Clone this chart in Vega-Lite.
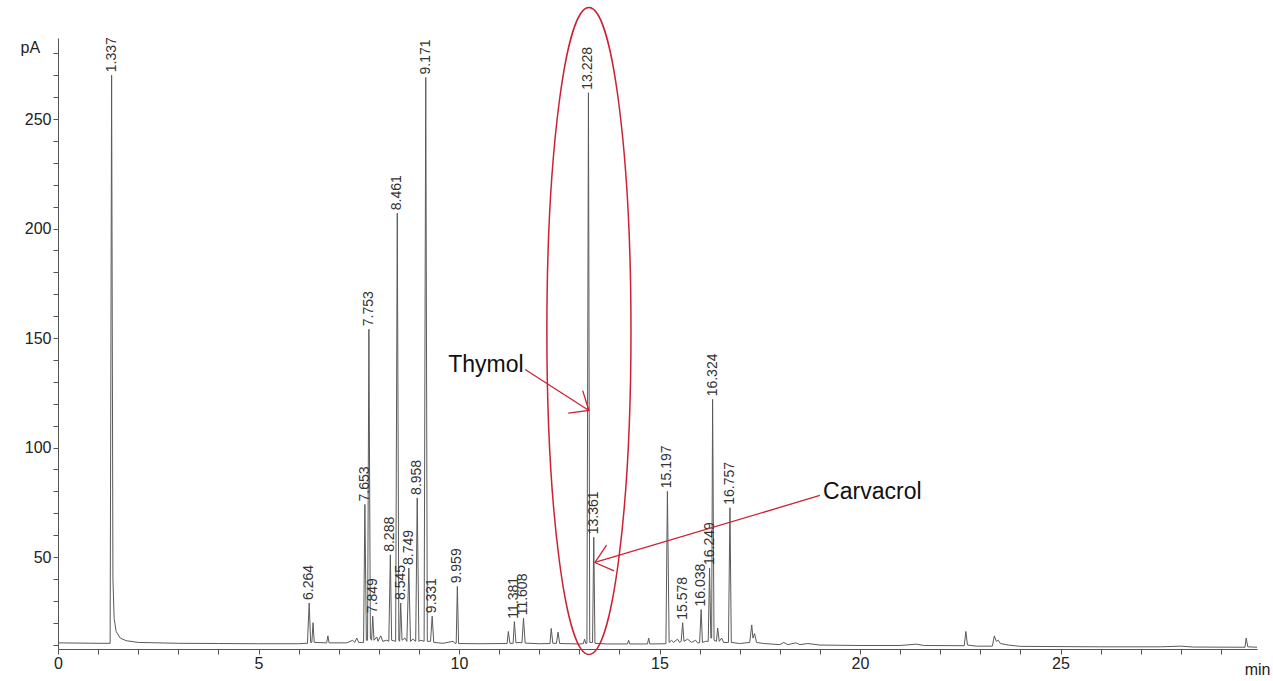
{
  "$schema": "https://vega.github.io/schema/vega-lite/v6.json",
  "width": 1199,
  "height": 611,
  "autosize": "none",
  "padding": {"left": 58, "top": 38, "right": 16, "bottom": 32},
  "background": "white",
  "resolve": {"axis": {"y": "independent"}},
  "config": {
    "view": {"stroke": null},
    "font": "Liberation Sans",
    "axis": {
      "grid": false,
      "domainColor": "#555",
      "tickColor": "#555",
      "tickSize": 5,
      "labelColor": "#222",
      "labelFont": "Liberation Sans",
      "labelFontSize": 16,
      "titleFont": "Liberation Sans",
      "titleFontSize": 16,
      "titleFontWeight": "normal",
      "titleColor": "#222",
      "labelOverlap": false,
      "labelFlush": false
    }
  },
  "datasets": {
    "trace": [
      {"t": 0, "v": 10.8}, {"t": 0.5, "v": 10.7}, {"t": 1.0, "v": 10.6}, {"t": 1.3, "v": 10.6},
      {"t": 1.337, "v": 270}, {"t": 1.37, "v": 40}, {"t": 1.4, "v": 22}, {"t": 1.45, "v": 16},
      {"t": 1.55, "v": 13}, {"t": 1.7, "v": 11.8}, {"t": 2.0, "v": 11}, {"t": 3.0, "v": 10.6},
      {"t": 4.0, "v": 10.5}, {"t": 5.0, "v": 10.4}, {"t": 6.0, "v": 10.4}, {"t": 6.22, "v": 10.6},
      {"t": 6.264, "v": 29}, {"t": 6.3, "v": 11}, {"t": 6.33, "v": 11}, {"t": 6.36, "v": 20},
      {"t": 6.39, "v": 11}, {"t": 6.7, "v": 10.8}, {"t": 6.73, "v": 14}, {"t": 6.76, "v": 10.8},
      {"t": 7.2, "v": 10.8}, {"t": 7.35, "v": 12}, {"t": 7.4, "v": 11}, {"t": 7.45, "v": 13},
      {"t": 7.5, "v": 11}, {"t": 7.62, "v": 11}, {"t": 7.653, "v": 74}, {"t": 7.69, "v": 12},
      {"t": 7.72, "v": 12}, {"t": 7.753, "v": 154}, {"t": 7.79, "v": 13}, {"t": 7.82, "v": 12},
      {"t": 7.849, "v": 23}, {"t": 7.88, "v": 12}, {"t": 7.95, "v": 13.5}, {"t": 7.98, "v": 11.5},
      {"t": 8.05, "v": 14}, {"t": 8.1, "v": 11.5}, {"t": 8.2, "v": 12}, {"t": 8.25, "v": 11.5},
      {"t": 8.288, "v": 51}, {"t": 8.32, "v": 12}, {"t": 8.42, "v": 11.5}, {"t": 8.461, "v": 207},
      {"t": 8.5, "v": 12}, {"t": 8.52, "v": 11.5}, {"t": 8.545, "v": 29}, {"t": 8.58, "v": 12},
      {"t": 8.65, "v": 13}, {"t": 8.7, "v": 11.5}, {"t": 8.749, "v": 45}, {"t": 8.79, "v": 11.5},
      {"t": 8.85, "v": 12.5}, {"t": 8.92, "v": 11.5}, {"t": 8.958, "v": 77}, {"t": 9.0, "v": 11.5},
      {"t": 9.05, "v": 12}, {"t": 9.13, "v": 11.5}, {"t": 9.171, "v": 269}, {"t": 9.21, "v": 11.5},
      {"t": 9.29, "v": 11.5}, {"t": 9.331, "v": 23}, {"t": 9.37, "v": 11}, {"t": 9.6, "v": 10.6},
      {"t": 9.85, "v": 11.5}, {"t": 9.9, "v": 10.6}, {"t": 9.93, "v": 10.6}, {"t": 9.959, "v": 36.6},
      {"t": 9.99, "v": 10.5}, {"t": 10.5, "v": 10.4}, {"t": 11.2, "v": 10.5}, {"t": 11.23, "v": 16},
      {"t": 11.27, "v": 10.6}, {"t": 11.35, "v": 10.6}, {"t": 11.381, "v": 20.5}, {"t": 11.42, "v": 10.8},
      {"t": 11.5, "v": 11}, {"t": 11.57, "v": 10.8}, {"t": 11.608, "v": 22}, {"t": 11.65, "v": 10.7},
      {"t": 12.0, "v": 10.4}, {"t": 12.27, "v": 10.5}, {"t": 12.3, "v": 17.4}, {"t": 12.34, "v": 10.6},
      {"t": 12.43, "v": 10.6}, {"t": 12.47, "v": 15.7}, {"t": 12.51, "v": 10.5}, {"t": 13.0, "v": 10.3},
      {"t": 13.1, "v": 10.4}, {"t": 13.13, "v": 12.5}, {"t": 13.16, "v": 10.6}, {"t": 13.19, "v": 10.6},
      {"t": 13.228, "v": 262}, {"t": 13.26, "v": 11}, {"t": 13.33, "v": 11}, {"t": 13.361, "v": 59},
      {"t": 13.39, "v": 10.6}, {"t": 13.7, "v": 10.3}, {"t": 14.2, "v": 10.3}, {"t": 14.23, "v": 12},
      {"t": 14.26, "v": 10.3}, {"t": 14.7, "v": 10.3}, {"t": 14.73, "v": 13}, {"t": 14.76, "v": 10.3},
      {"t": 15.16, "v": 10.4}, {"t": 15.197, "v": 80}, {"t": 15.24, "v": 11}, {"t": 15.3, "v": 12},
      {"t": 15.35, "v": 11}, {"t": 15.45, "v": 12.5}, {"t": 15.5, "v": 11}, {"t": 15.54, "v": 11.5},
      {"t": 15.578, "v": 20}, {"t": 15.61, "v": 11.5}, {"t": 15.7, "v": 12.5}, {"t": 15.8, "v": 11},
      {"t": 15.9, "v": 12}, {"t": 15.95, "v": 10.8}, {"t": 16.0, "v": 10.8}, {"t": 16.038, "v": 26},
      {"t": 16.07, "v": 11}, {"t": 16.15, "v": 11.5}, {"t": 16.215, "v": 11.5}, {"t": 16.249, "v": 45},
      {"t": 16.28, "v": 13}, {"t": 16.3, "v": 13}, {"t": 16.324, "v": 122}, {"t": 16.36, "v": 12},
      {"t": 16.42, "v": 11.5}, {"t": 16.45, "v": 17.6}, {"t": 16.49, "v": 11.5}, {"t": 16.55, "v": 13},
      {"t": 16.6, "v": 11}, {"t": 16.72, "v": 11}, {"t": 16.757, "v": 72.5}, {"t": 16.79, "v": 11},
      {"t": 17.0, "v": 10.5}, {"t": 17.25, "v": 11}, {"t": 17.3, "v": 19}, {"t": 17.33, "v": 13},
      {"t": 17.37, "v": 15}, {"t": 17.42, "v": 11}, {"t": 17.6, "v": 10.5}, {"t": 18.0, "v": 10},
      {"t": 18.1, "v": 11}, {"t": 18.2, "v": 10}, {"t": 18.4, "v": 10.8}, {"t": 18.5, "v": 10},
      {"t": 18.7, "v": 10.5}, {"t": 19.0, "v": 9.8}, {"t": 20.0, "v": 9.6}, {"t": 21.0, "v": 9.6},
      {"t": 21.4, "v": 10.2}, {"t": 21.6, "v": 9.6}, {"t": 22.6, "v": 9.5}, {"t": 22.64, "v": 16},
      {"t": 22.68, "v": 9.8}, {"t": 22.9, "v": 9.3}, {"t": 23.3, "v": 9.3}, {"t": 23.35, "v": 14},
      {"t": 23.4, "v": 11.5}, {"t": 23.45, "v": 12}, {"t": 23.5, "v": 10.5}, {"t": 23.7, "v": 9.8},
      {"t": 24.0, "v": 9.2}, {"t": 26.0, "v": 9.0}, {"t": 27.5, "v": 9.0}, {"t": 28.0, "v": 9.3},
      {"t": 28.3, "v": 8.9}, {"t": 29.6, "v": 8.8}, {"t": 29.63, "v": 13}, {"t": 29.67, "v": 9},
      {"t": 29.9, "v": 8.8}
    ],
    "peaks": [
      {"t": 1.337, "v": 270, "label": "1.337"},
      {"t": 6.264, "v": 29, "label": "6.264"},
      {"t": 7.653, "v": 74, "label": "7.653"},
      {"t": 7.753, "v": 154, "label": "7.753"},
      {"t": 7.849, "v": 23, "label": "7.849"},
      {"t": 8.288, "v": 51, "label": "8.288"},
      {"t": 8.461, "v": 207, "label": "8.461"},
      {"t": 8.545, "v": 29, "label": "8.545"},
      {"t": 8.749, "v": 45, "label": "8.749"},
      {"t": 8.958, "v": 77, "label": "8.958"},
      {"t": 9.171, "v": 269, "label": "9.171"},
      {"t": 9.331, "v": 23, "label": "9.331"},
      {"t": 9.959, "v": 36.6, "label": "9.959"},
      {"t": 11.381, "v": 20.5, "label": "11.381"},
      {"t": 11.608, "v": 22, "label": "11.608"},
      {"t": 13.228, "v": 262, "label": "13.228"},
      {"t": 13.361, "v": 59, "label": "13.361"},
      {"t": 15.197, "v": 80, "label": "15.197"},
      {"t": 15.578, "v": 20, "label": "15.578"},
      {"t": 16.038, "v": 26, "label": "16.038"},
      {"t": 16.249, "v": 45, "label": "16.249"},
      {"t": 16.324, "v": 122, "label": "16.324"},
      {"t": 16.757, "v": 72.5, "label": "16.757"}
    ],
    "notes": [
      {"name": "Thymol", "t": 9.73, "v": 134.3},
      {"name": "Carvacrol", "t": 19.08, "v": 76.3}
    ],
    "arrows": [
      {"name": "Thymol", "t": 11.65, "v": 135.6, "t2": 13.24, "v2": 116.9},
      {"name": "Carvacrol", "t": 19.0, "v": 78.1, "t2": 13.39, "v2": 47.5}
    ],
    "circle": [
      {"name": "Thymol/Carvacrol", "t": 13.24, "v": 153.2}
    ]
  },
  "layer": [
    {
      "data": {"name": "trace"},
      "mark": {"type": "line", "color": "#5a5a5a", "strokeWidth": 1, "interpolate": "linear"},
      "encoding": {
        "x": {
          "field": "t", "type": "quantitative",
          "scale": {"domain": [0, 29.9], "nice": false, "zero": false},
          "axis": {
            "values": [0,1,2,3,4,5,6,7,8,9,10,11,12,13,14,15,16,17,18,19,20,21,22,23,24,25,26,27,28,29],
            "labelExpr": "datum.value % 5 === 0 ? datum.label : ''",
            "labelOverlap": false,
            "labelPadding": 1,
            "title": "min",
            "titleAlign": "right",
            "titleX": 1212,
            "titleY": 25,
            "titleBaseline": "alphabetic"
          }
        },
        "y": {
          "field": "v", "type": "quantitative",
          "scale": {"domain": [8, 287], "nice": false, "zero": false},
          "axis": {
            "orient": "left",
            "values": [50, 100, 150, 200, 250],
            "labelOverlap": false,
            "title": "pA",
            "titleAngle": 0,
            "titleAlign": "left",
            "titleX": -38,
            "titleY": 14,
            "titleBaseline": "alphabetic"
          }
        }
      }
    },
    {
      "data": {"name": "peaks"},
      "mark": {"type": "text", "angle": 270, "align": "left", "baseline": "middle", "dx": 3, "fontSize": 14, "color": "#333", "font": "Liberation Sans"},
      "encoding": {
        "x": {"field": "t", "type": "quantitative"},
        "y": {
          "field": "v", "type": "quantitative",
          "axis": {
            "orient": "left",
            "values": [10,20,30,40,60,70,80,90,110,120,130,140,160,170,180,190,210,220,230,240,260,270,280],
            "labels": false,
            "domain": false,
            "title": null
          }
        },
        "text": {"field": "label"}
      }
    },
    {
      "data": {"name": "circle"},
      "mark": {
        "type": "point",
        "shape": "M0,-1C0.0718,-1,0.13,-0.5523,0.13,0C0.13,0.5523,0.0718,1,0,1C-0.0718,1,-0.13,0.5523,-0.13,0C-0.13,-0.5523,-0.0718,-1,0,-1Z",
        "size": 418609,
        "filled": false,
        "stroke": "#cc2233",
        "strokeWidth": 1.5,
        "opacity": 1
      },
      "encoding": {
        "x": {"field": "t", "type": "quantitative"},
        "y": {"field": "v", "type": "quantitative", "axis": null}
      }
    },
    {
      "data": {"name": "arrows"},
      "mark": {"type": "rule", "color": "#cc2233", "strokeWidth": 1.3},
      "encoding": {
        "x": {"field": "t", "type": "quantitative"},
        "y": {"field": "v", "type": "quantitative", "axis": null},
        "x2": {"field": "t2"},
        "y2": {"field": "v2"}
      }
    },
    {
      "data": {"name": "arrows"},
      "transform": [{"filter": "datum.name === 'Thymol'"}],
      "mark": {"type": "point", "shape": "M-0.8,-0.67L0,0L-0.8,0.67", "size": 1600, "angle": 32.6, "filled": false, "stroke": "#cc2233", "strokeWidth": 1.3, "opacity": 1},
      "encoding": {
        "x": {"field": "t2", "type": "quantitative"},
        "y": {"field": "v2", "type": "quantitative", "axis": null}
      }
    },
    {
      "data": {"name": "arrows"},
      "transform": [{"filter": "datum.name === 'Carvacrol'"}],
      "mark": {"type": "point", "shape": "M-0.8,-0.67L0,0L-0.8,0.67", "size": 1600, "angle": 163.8, "filled": false, "stroke": "#cc2233", "strokeWidth": 1.3, "opacity": 1},
      "encoding": {
        "x": {"field": "t2", "type": "quantitative"},
        "y": {"field": "v2", "type": "quantitative", "axis": null}
      }
    },
    {
      "data": {"name": "notes"},
      "mark": {"type": "text", "align": "left", "baseline": "alphabetic", "fontSize": 23, "color": "#111", "font": "Liberation Sans"},
      "encoding": {
        "x": {"field": "t", "type": "quantitative"},
        "y": {"field": "v", "type": "quantitative", "axis": null},
        "text": {"field": "name"}
      }
    }
  ]
}
